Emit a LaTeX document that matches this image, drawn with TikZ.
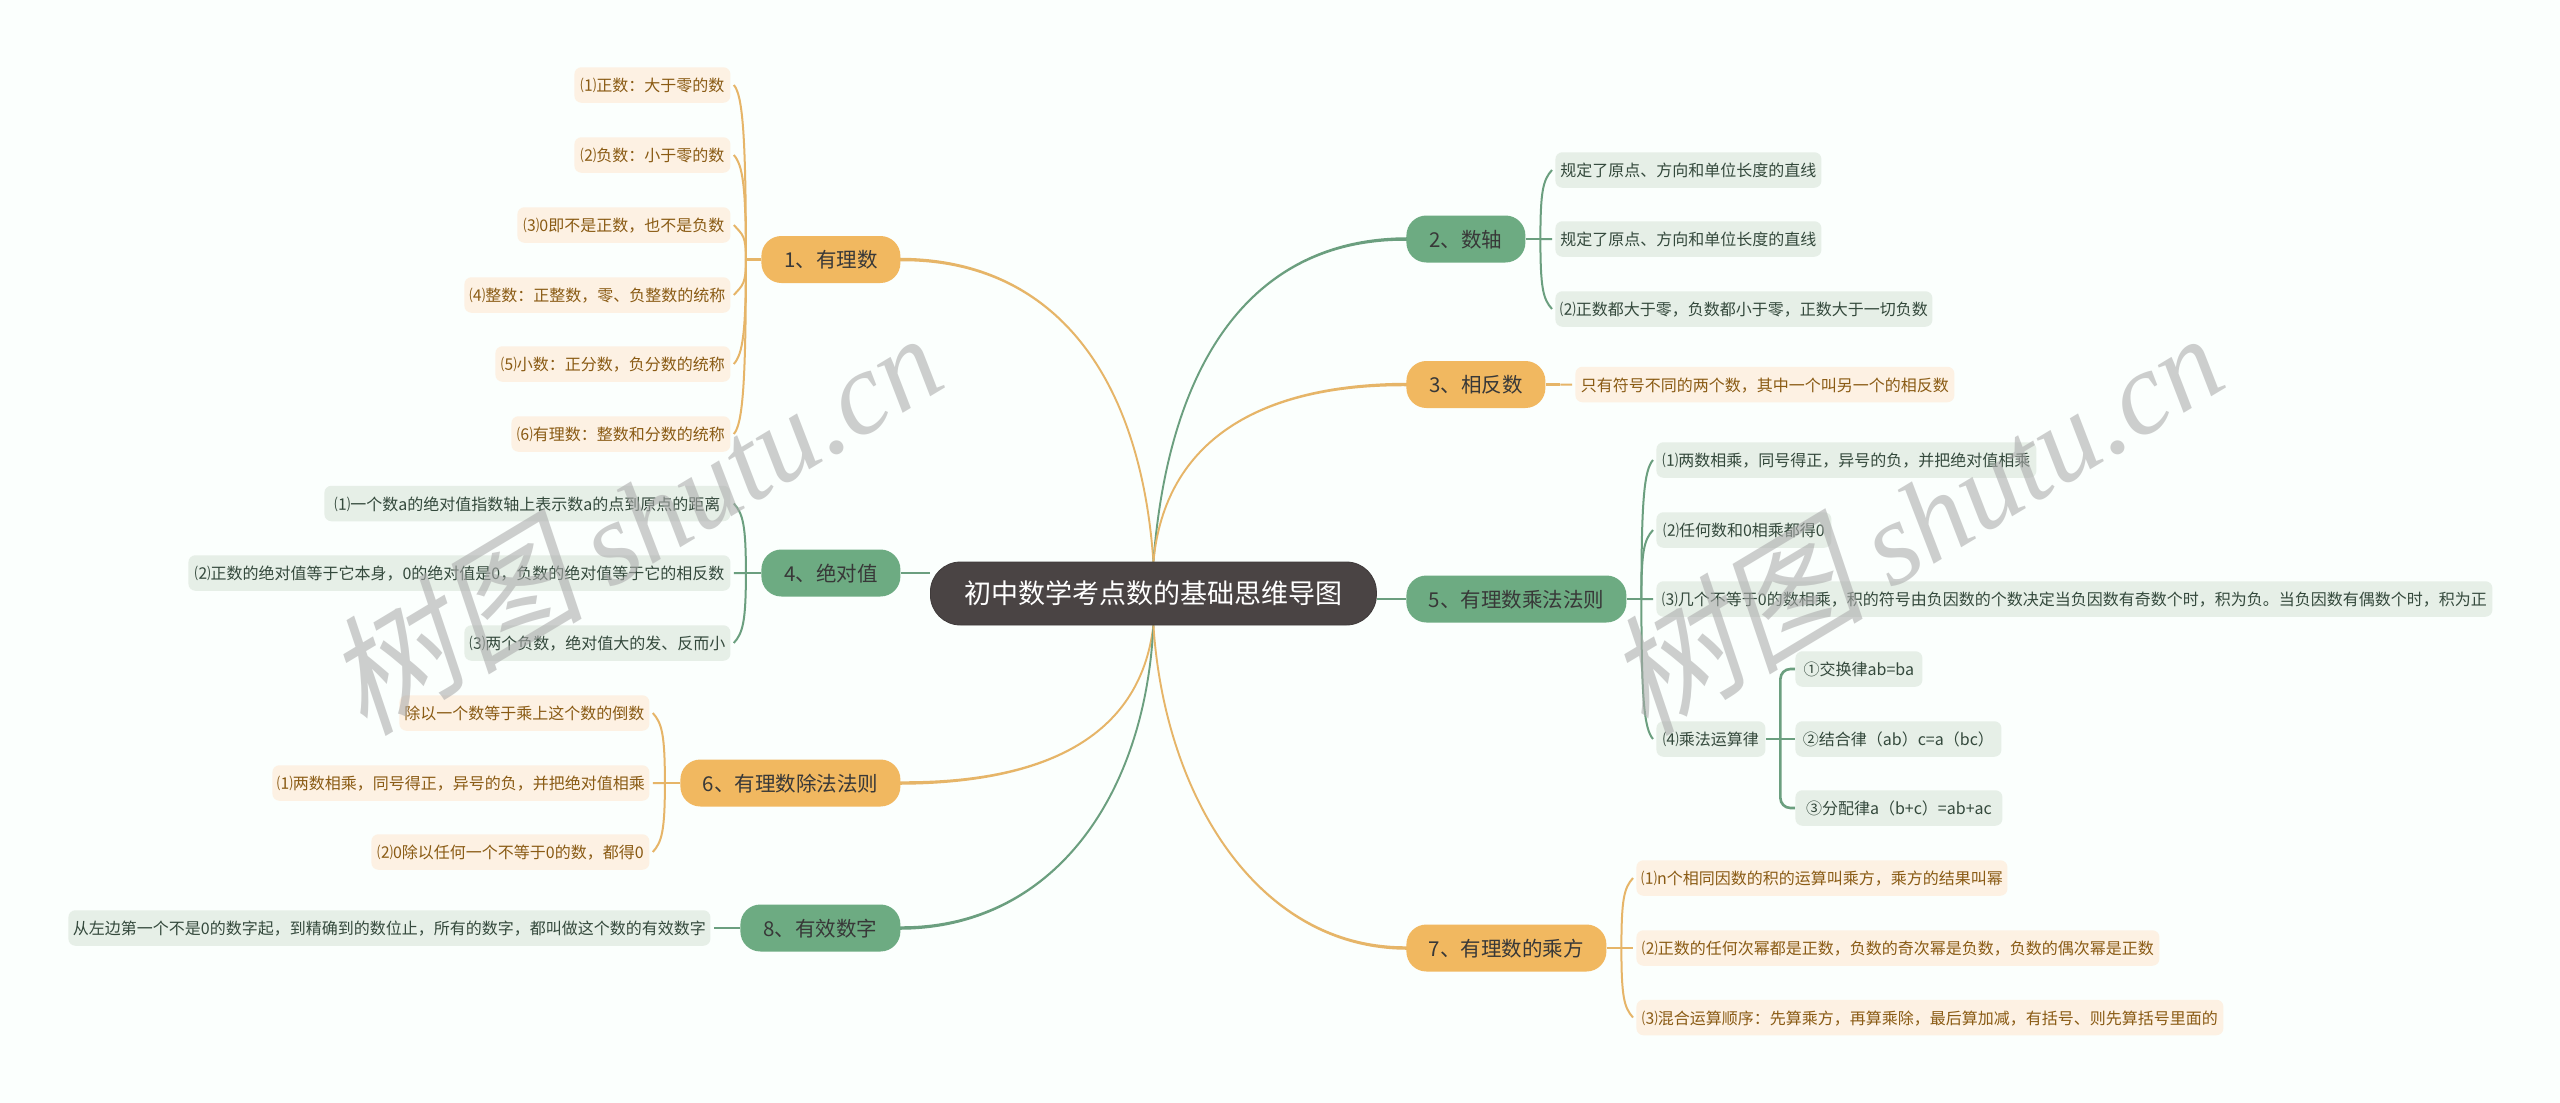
\documentclass[tikz,border=0pt]{standalone}
\usepackage{fontspec}
\usetikzlibrary{calc}
\setmainfont{Noto Sans CJK SC}
\newfontfamily\wmcjk[FakeSlant=0.22]{Noto Sans CJK SC}
\newfontfamily\wmlat{Liberation Serif}
\definecolor{bgc}{HTML}{FBFFFD}
\definecolor{og}{HTML}{F1B860}
\definecolor{gn}{HTML}{6DAB82}
\definecolor{ol}{HTML}{E6B568}
\definecolor{gl}{HTML}{6B9F7F}
\definecolor{oi}{HTML}{FDF1E3}
\definecolor{gi}{HTML}{E6EFE7}
\definecolor{ot}{HTML}{8A5B14}
\definecolor{gt}{HTML}{34493C}
\definecolor{rootc}{HTML}{4A4444}
\pgfdeclarelayer{backdrop}
\pgfdeclarelayer{under}
\pgfsetlayers{backdrop,under,main}
\tikzset{
 itemO/.style={rectangle,rounded corners=3.5pt,fill=oi,text=ot,inner sep=0pt,minimum height=17.75pt,text height=7.9pt,text depth=1pt,font=\fontsize{8}{10}\selectfont},
 itemG/.style={rectangle,rounded corners=3.5pt,fill=gi,text=gt,inner sep=0pt,minimum height=17.75pt,text height=7.9pt,text depth=1pt,font=\fontsize{8}{10}\selectfont},
 branchO/.style={rectangle,rounded corners=10pt,fill=og,text=black!78,inner sep=0pt,minimum height=23.5pt,text height=9.1pt,text depth=1pt,font=\fontsize{10.25}{12}\selectfont},
 branchG/.style={rectangle,rounded corners=10pt,fill=gn,text=black!78,inner sep=0pt,minimum height=23.5pt,text height=9.1pt,text depth=1pt,font=\fontsize{10.25}{12}\selectfont},
 rootbox/.style={rectangle,rounded corners=15pt,fill=rootc,draw=rootc!85!black,line width=.4pt,inner sep=0pt,text=white,minimum height=31.5pt,text height=11.2pt,text depth=1pt,font=\fontsize{13.5}{17}\selectfont},
 wmark/.style={text=black!33,opacity=.58,rotate=31,inner sep=0pt,font=\fontsize{59}{70}\selectfont},
}
% node with left edge, right edge, centre y (all in image pixels)
\newcommand{\Bx}[6]{\node[#2,anchor=west,minimum width={(#4-#3)*0.5pt}] (#1) at (#3,#5) {#6};}
% branch -> item: thick stub to the trunk, then a thin curve with a short bend at the tip
\newcommand{\Lk}[6]{%
 \draw[#6,line width=1.4pt] let \p1=(#1.#2),\p2=(#3.#4) in (\p1) -- ({0.5*\x1+0.5*\x2},\y1);
 \draw[#6,line width=1pt] let \p1=(#1.#2),\p2=(#3.#4) in
   ({0.5*\x1+0.5*\x2},\y1) .. controls ({0.5*\x1+0.5*\x2},{0.3*\y1+0.7*\y2}) and ({\x2+#5*6pt},{\y2+5pt*sign(\y1-\y2)}) .. ({\x2+#5*1.5pt},\y2);}
% root -> branch: tapered curve
\newcommand{\Rt}[6]{%
 \draw[#6,line width=.95pt,fill=#6] (#1) .. controls (#3) and (#4) .. ([yshift=.4pt]#2) -- ([yshift=-.4pt]#2) .. controls (#4) and (#3) .. (#1) -- cycle;}
\begin{document}
\begin{tikzpicture}[x=0.5pt,y=-0.5pt]
\useasboundingbox (0,0) rectangle (2560,1103);
\begin{pgfonlayer}{backdrop}
\fill[bgc] (0,0) rectangle (2560,1103);
\end{pgfonlayer}

% root
\node[rootbox,anchor=west,minimum width=223pt] (c) at (930,593.5) {初中数学考点数的基础思维导图};

% branches
\Bx{b1}{branchO}{761}{900}{259.5}{1、有理数}
\Bx{b2}{branchG}{1406}{1525}{239}{2、数轴}
\Bx{b3}{branchO}{1406}{1545}{384.5}{3、相反数}
\Bx{b4}{branchG}{761}{900}{573}{4、绝对值}
\Bx{b5}{branchG}{1406}{1626}{599}{5、有理数乘法法则}
\Bx{b6}{branchO}{680}{900}{783}{6、有理数除法法则}
\Bx{b7}{branchO}{1406}{1606}{948}{7、有理数的乘方}
\Bx{b8}{branchG}{740}{900}{928}{8、有效数字}

% items of 1
\Bx{a1}{itemO}{574}{730}{85}{⑴正数：大于零的数}
\Bx{a2}{itemO}{574}{730}{155}{⑵负数：小于零的数}
\Bx{a3}{itemO}{517}{730}{225}{⑶0即不是正数，也不是负数}
\Bx{a4}{itemO}{464}{730}{295}{⑷整数：正整数，零、负整数的统称}
\Bx{a5}{itemO}{495}{730}{364}{⑸小数：正分数，负分数的统称}
\Bx{a6}{itemO}{511}{730}{434}{⑹有理数：整数和分数的统称}
% items of 2
\Bx{d1}{itemG}{1555}{1821}{170}{规定了原点、方向和单位长度的直线}
\Bx{d2}{itemG}{1555}{1821}{239}{规定了原点、方向和单位长度的直线}
\Bx{d3}{itemG}{1555}{1932}{309}{⑵正数都大于零，负数都小于零，正数大于一切负数}
% item of 3
\Bx{e1}{itemO}{1575}{1954}{384.5}{只有符号不同的两个数，其中一个叫另一个的相反数}
% items of 4
\Bx{f1}{itemG}{324}{730}{503.5}{⑴一个数a的绝对值指数轴上表示数a的点到原点的距离}
\Bx{f2}{itemG}{188}{730}{573}{⑵正数的绝对值等于它本身，0的绝对值是0，负数的绝对值等于它的相反数}
\Bx{f3}{itemG}{464}{730}{643}{⑶两个负数，绝对值大的发、反而小}
% items of 5
\Bx{g1}{itemG}{1656}{2036}{460}{⑴两数相乘，同号得正，异号的负，并把绝对值相乘}
\Bx{g2}{itemG}{1656}{1831}{530}{⑵任何数和0相乘都得0}
\Bx{g3}{itemG}{1656}{2492}{599}{⑶几个不等于0的数相乘，积的符号由负因数的个数决定当负因数有奇数个时，积为负。当负因数有偶数个时，积为正}
\Bx{g4}{itemG}{1656}{1765}{739}{⑷乘法运算律}
\Bx{h1}{itemG}{1795}{1922}{669}{①交换律ab=ba}
\Bx{h2}{itemG}{1795}{2001}{739}{②结合律（ab）c=a（bc）}
\Bx{h3}{itemG}{1795}{2002}{808}{③分配律a（b+c）=ab+ac}
% items of 6
\Bx{k1}{itemO}{399}{649}{713}{除以一个数等于乘上这个数的倒数}
\Bx{k2}{itemO}{272}{649}{783}{⑴两数相乘，同号得正，异号的负，并把绝对值相乘}
\Bx{k3}{itemO}{371}{649}{852}{⑵0除以任何一个不等于0的数，都得0}
% items of 7
\Bx{m1}{itemO}{1636}{2007}{878}{⑴n个相同因数的积的运算叫乘方，乘方的结果叫幂}
\Bx{m2}{itemO}{1636}{2159}{948}{⑵正数的任何次幂都是正数，负数的奇次幂是负数，负数的偶次幂是正数}
\Bx{m3}{itemO}{1636}{2223}{1017.5}{⑶混合运算顺序：先算乘方，再算乘除，最后算加减，有括号、则先算括号里面的}
% item of 8
\Bx{n1}{itemG}{68}{710}{928}{从左边第一个不是0的数字起，到精确到的数位止，所有的数字，都叫做这个数的有效数字}

\begin{pgfonlayer}{under}
\Rt{c.north}{b1.east}{1140,370}{1050,259.5}{}{ol}
\Rt{c.north}{b2.west}{1170,350}{1260,239}{}{gl}
\Rt{c.north}{b3.west}{1165,440}{1260,384.5}{}{ol}
\Rt{c.south}{b6.east}{1140,740}{1040,783}{}{ol}
\Rt{c.south}{b8.east}{1145,800}{1050,928}{}{gl}
\Rt{c.south}{b7.west}{1165,800}{1260,948}{}{ol}
\draw[gl,line width=1.4pt] (b4.east) -- (b4.east -| c.west);
\draw[gl,line width=1.4pt] (b5.west) -- (b5.west -| c.east);
\foreach \i in {a1,a2,a3,a4,a5,a6}{\Lk{b1}{west}{\i}{east}{1}{ol}}
\foreach \i in {f1,f2,f3}{\Lk{b4}{west}{\i}{east}{1}{gl}}
\foreach \i in {k1,k2,k3}{\Lk{b6}{west}{\i}{east}{1}{ol}}
\Lk{b8}{west}{n1}{east}{1}{gl}
\foreach \i in {d1,d2,d3}{\Lk{b2}{east}{\i}{west}{-1}{gl}}
\Lk{b3}{east}{e1}{west}{-1}{ol}
\foreach \i in {g1,g2,g3,g4}{\Lk{b5}{east}{\i}{west}{-1}{gl}}
\foreach \i in {m1,m2,m3}{\Lk{b7}{east}{\i}{west}{-1}{ol}}
\draw[gl,line width=1.3pt] (g4.east) -- (h2.west);
\foreach \i in {h1,h3}{
 \draw[gl,line width=1.3pt,rounded corners=5pt] let \p1=(g4.east),\p2=(\i.west) in ({0.5*\x1+0.5*\x2},\y1) -- ({0.5*\x1+0.5*\x2},\y2) -- (\p2);}
\end{pgfonlayer}

% watermarks
\node[wmark] (w1) at (632,519) {{\wmcjk\fontsize{65}{70}\selectfont 树图} {\wmlat\itshape shutu.cn}};
\node[wmark] (w2) at (1913,519) {{\wmcjk\fontsize{65}{70}\selectfont 树图} {\wmlat\itshape shutu.cn}};
\end{tikzpicture}
\end{document}
